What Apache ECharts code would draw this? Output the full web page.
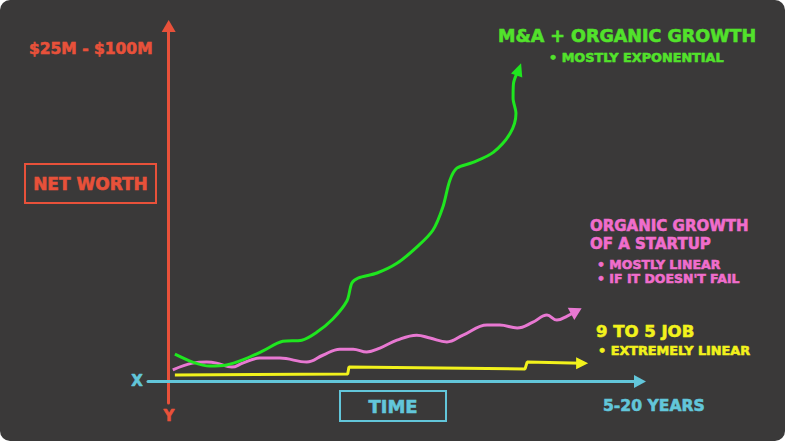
<!DOCTYPE html>
<html>
<head>
<meta charset="utf-8">
<script src="https://cdn.jsdelivr.net/npm/echarts@6/dist/echarts.min.js"></script>
<style>
html,body{margin:0;padding:0;background:#ffffff;}
#chart{width:785px;height:441px;background:#3a3939;border-radius:10px;overflow:hidden;}
</style>
</head>
<body>
<div id="chart"></div>
<script>
// ---- data (x = time, y = net worth; arbitrary units) ----
var greenX = [1.5, 5.8, 9.9, 14.0, 17.9, 22.8, 27.6, 32.2, 35.8, 39.7, 43.1, 44.3, 45.8, 50.4, 55.2, 60.0, 63.9, 66.3, 68.0, 69.7, 73.6, 78.5, 82.6, 84.0, 83.3, 83.4, 84.7];
var greenY = [7.6, 5.4, 4.3, 4.6, 6.0, 8.5, 11.2, 11.5, 13.7, 17.4, 22.4, 27.4, 28.8, 30.2, 32.9, 37.4, 42.1, 48.5, 56.0, 59.4, 61.0, 63.8, 69.1, 74.7, 78.9, 83.0, 86.9];
var pinkX = [1.0, 5.8, 9.2, 11.6, 15.3, 17.9, 22.0, 26.9, 33.4, 37.3, 41.4, 44.6, 47.9, 51.1, 55.2, 60.0, 63.2, 67.3, 71.2, 77.0, 80.1, 84.3, 88.1, 91.5, 93.9, 96.4, 98.6];
var pinkY = [3.2, 5.1, 5.4, 5.1, 4.0, 5.1, 6.5, 6.5, 5.4, 7.3, 9.0, 9.0, 8.2, 9.3, 11.5, 12.9, 12.1, 11.0, 12.9, 15.7, 15.7, 14.9, 16.5, 18.5, 17.1, 18.2, 19.6];
var yellowX = [1.5, 43.3, 43.6, 86.2, 86.7, 100.0];
var yellowY = [1.8, 2.1, 4.0, 3.5, 5.4, 5.1];

var yRangeLabel = "$25M - $100M";
var yAxisTitle = "NET WORTH";
var xAxisTitle = "TIME";
var xRangeLabel = "5-20 YEARS";
var greenTitle = "M&A + ORGANIC GROWTH";
var greenNotes = ["• MOSTLY EXPONENTIAL"];
var pinkTitle = ["ORGANIC GROWTH", "OF A STARTUP"];
var pinkNotes = ["• MOSTLY LINEAR", "• IF IT DOESN'T FAIL"];
var yellowTitle = "9 TO 5 JOB";
var yellowNotes = ["• EXTREMELY LINEAR"];

// ---- styles ----
var RED = '#e8513a', CYAN = '#62c6da', GREEN = '#1fe61f', GREEN_TXT = '#52e22b',
    PINK = '#e878d2', PINK_TXT = '#f06dcc', YELLOW = '#f2f21c';
var FONT = '"DejaVu Sans", sans-serif';

function pairs(xs, ys, arrow) {
  return xs.map(function (x, i) {
    var item = { value: [x, ys[i]] };
    if (i === xs.length - 1 && arrow) {
      item.symbol = 'triangle';
      item.symbolSize = arrow.size;
      item.symbolRotate = arrow.rotate;
      item.itemStyle = { color: arrow.color };
    }
    return item;
  });
}

function txt(text, x, y, color, size, align) {
  return { type: 'text', x: x, y: y, z: 100,
    style: { text: text, fill: color, stroke: color, lineWidth: 0.6,
             font: 'bold ' + size + 'px ' + FONT,
             align: align || 'left', verticalAlign: 'middle' } };
}

var chart = echarts.init(document.getElementById('chart'), null, { renderer: 'svg' });
chart.setOption({
  backgroundColor: 'transparent',
  animation: false,
  grid: { left: 148, right: 145, top: 26, bottom: 38, containLabel: false },
  xAxis: {
    type: 'value', min: -5, max: 114,
    axisLine: { show: true, onZero: true, symbol: ['none', 'triangle'], symbolSize: [13, 12],
                lineStyle: { color: CYAN, width: 3 } },
    axisTick: { show: false }, axisLabel: { show: false }, splitLine: { show: false }
  },
  yAxis: {
    type: 'value', min: -6, max: 99,
    axisLine: { show: true, onZero: true, symbol: ['none', 'triangle'], symbolSize: [14, 12],
                lineStyle: { color: RED, width: 3 } },
    axisTick: { show: false }, axisLabel: { show: false }, splitLine: { show: false }
  },
  series: [
    { type: 'line', data: pairs(yellowX, yellowY, { size: [12, 12], rotate: -90, color: YELLOW }),
      symbol: 'none', showSymbol: true, lineStyle: { color: YELLOW, width: 3 }, itemStyle: { color: YELLOW }, z: 3 },
    { type: 'line', data: pairs(pinkX, pinkY, { size: [14, 12], rotate: -62, color: PINK }),
      smooth: 0.4, symbol: 'none', showSymbol: true, lineStyle: { color: PINK, width: 3 }, itemStyle: { color: PINK }, z: 4 },
    { type: 'line', data: pairs(greenX, greenY, { size: [12, 13], rotate: -20, color: GREEN }),
      smooth: 0.3, symbol: 'none', showSymbol: true, lineStyle: { color: GREEN, width: 3 }, itemStyle: { color: GREEN }, z: 5 }
  ],
  graphic: [
    txt(yRangeLabel, 29, 49, RED, 15.5),
    { type: 'rect', shape: { x: 25, y: 164, width: 131, height: 39 }, style: { fill: 'none', stroke: RED, lineWidth: 2 } },
    txt(yAxisTitle, 90.5, 184, RED, 17, 'center'),
    txt('X', 137, 381, CYAN, 15, 'center'),
    txt('Y', 169, 416, RED, 15, 'center'),
    { type: 'rect', shape: { x: 340, y: 391, width: 106, height: 30 }, style: { fill: 'none', stroke: CYAN, lineWidth: 2 } },
    txt(xAxisTitle, 393, 406, CYAN, 18, 'center'),
    txt(xRangeLabel, 603, 406, CYAN, 15.6),
    txt(greenTitle, 498, 36, GREEN_TXT, 17.5),
    txt(greenNotes[0], 549, 57, GREEN_TXT, 12.8),
    txt(pinkTitle[0], 590, 226, PINK_TXT, 15),
    txt(pinkTitle[1], 590, 244, PINK_TXT, 15),
    txt(pinkNotes[0], 597, 264, PINK_TXT, 12.5),
    txt(pinkNotes[1], 597, 278, PINK_TXT, 12.5),
    txt(yellowTitle, 596, 331, YELLOW, 16.5),
    txt(yellowNotes[0], 598, 350, YELLOW, 12.8)
  ]
});
</script>
</body>
</html>
